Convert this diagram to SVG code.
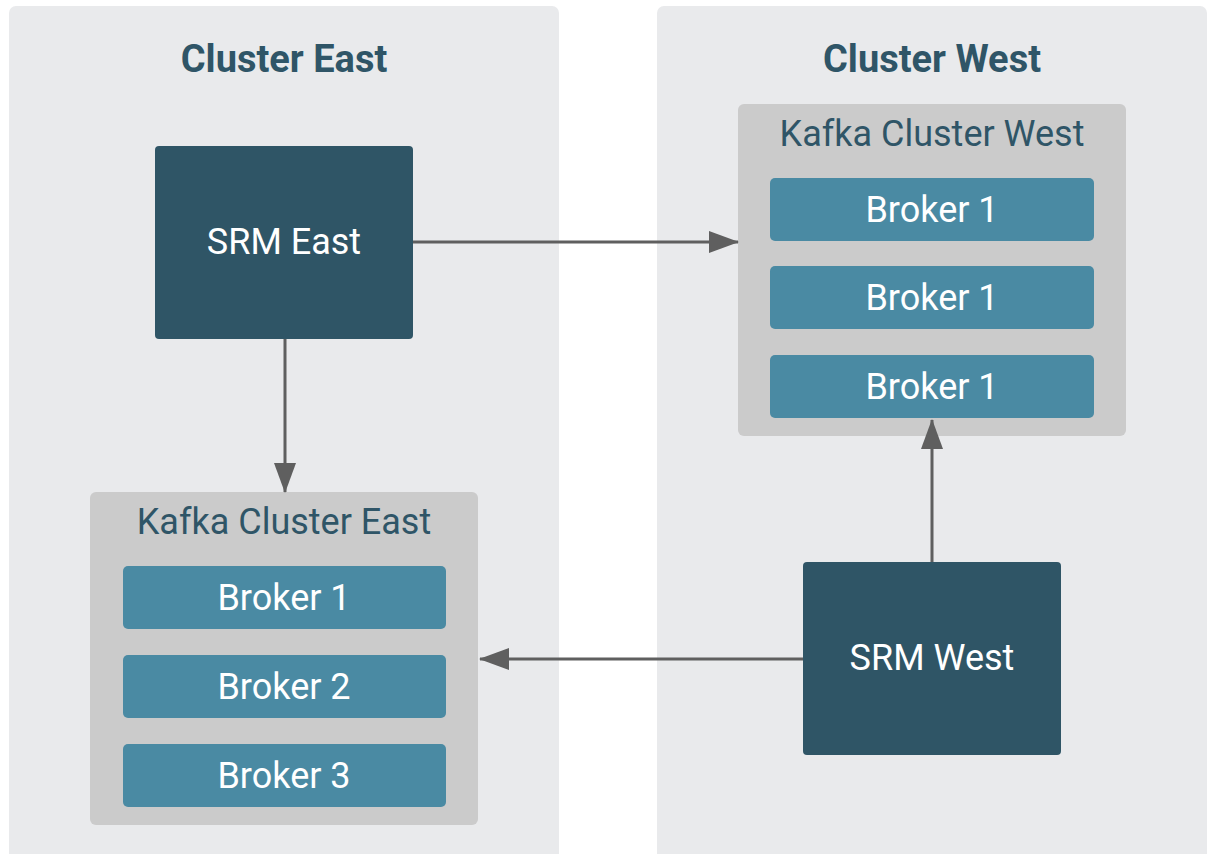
<svg xmlns="http://www.w3.org/2000/svg" width="1209" height="854" viewBox="0 0 1209 854">
<style>
.panel{fill:#e9eaec}
.title{font-family:Roboto,"Liberation Sans",sans-serif;font-weight:bold;font-size:38px;fill:#2f5567;text-anchor:middle}
.kafka{fill:#cbcbcb}
.ktitle{font-family:Roboto,"Liberation Sans",sans-serif;font-size:36px;fill:#2f5567;text-anchor:middle}
.broker{fill:#4a8aa3}
.srm{fill:#2f5566}
.wt{font-family:Roboto,"Liberation Sans",sans-serif;font-size:36px;fill:#ffffff;text-anchor:middle}
.conn{stroke:#5f5f5f;stroke-width:3;fill:none}
</style>
<defs>
<marker id="ah" markerUnits="userSpaceOnUse" markerWidth="30" markerHeight="22" refX="29" refY="11" orient="auto">
<path d="M0,0 L30,11 L0,22 Z" fill="#5f5f5f"/>
</marker>
</defs>
<rect width="1209" height="854" fill="#ffffff"/>
<g id="cluster-east">
<rect class="panel" x="9" y="6" width="550" height="860" rx="7"/>
<text class="title" x="284" y="72">Cluster East</text>
</g>
<g id="cluster-west">
<rect class="panel" x="657" y="6" width="550" height="860" rx="7"/>
<text class="title" x="932" y="72">Cluster West</text>
</g>
<g id="kafka-east">
<rect class="kafka" x="90" y="492" width="388" height="333" rx="6"/>
<text class="ktitle" x="284" y="534">Kafka Cluster East</text>
</g>
<g id="broker-e1">
<rect class="broker" x="123" y="566" width="323" height="63" rx="5"/>
<text class="wt" x="284" y="610">Broker 1</text>
</g>
<g id="broker-e2">
<rect class="broker" x="123" y="655" width="323" height="63" rx="5"/>
<text class="wt" x="284" y="699">Broker 2</text>
</g>
<g id="broker-e3">
<rect class="broker" x="123" y="744" width="323" height="63" rx="5"/>
<text class="wt" x="284" y="788">Broker 3</text>
</g>
<g id="kafka-west">
<rect class="kafka" x="738" y="104" width="388" height="332" rx="6"/>
<text class="ktitle" x="932" y="146">Kafka Cluster West</text>
</g>
<g id="broker-w1">
<rect class="broker" x="770" y="178" width="324" height="63" rx="5"/>
<text class="wt" x="932" y="222">Broker 1</text>
</g>
<g id="broker-w2">
<rect class="broker" x="770" y="266" width="324" height="63" rx="5"/>
<text class="wt" x="932" y="310">Broker 1</text>
</g>
<g id="broker-w3">
<rect class="broker" x="770" y="355" width="324" height="63" rx="5"/>
<text class="wt" x="932" y="399">Broker 1</text>
</g>
<g id="srm-east">
<rect class="srm" x="155" y="146" width="258" height="193" rx="4"/>
<text class="wt" x="284" y="254">SRM East</text>
</g>
<g id="srm-west">
<rect class="srm" x="803" y="562" width="258" height="193" rx="4"/>
<text class="wt" x="932" y="670">SRM West</text>
</g>
<g id="connectors">
<line class="conn" x1="413" y1="242" x2="738" y2="242" marker-end="url(#ah)"/>
<line class="conn" x1="285" y1="339" x2="285" y2="492" marker-end="url(#ah)"/>
<line class="conn" x1="932" y1="562" x2="932" y2="420" marker-end="url(#ah)"/>
<line class="conn" x1="803" y1="659" x2="480" y2="659" marker-end="url(#ah)"/>
</g>
</svg>
